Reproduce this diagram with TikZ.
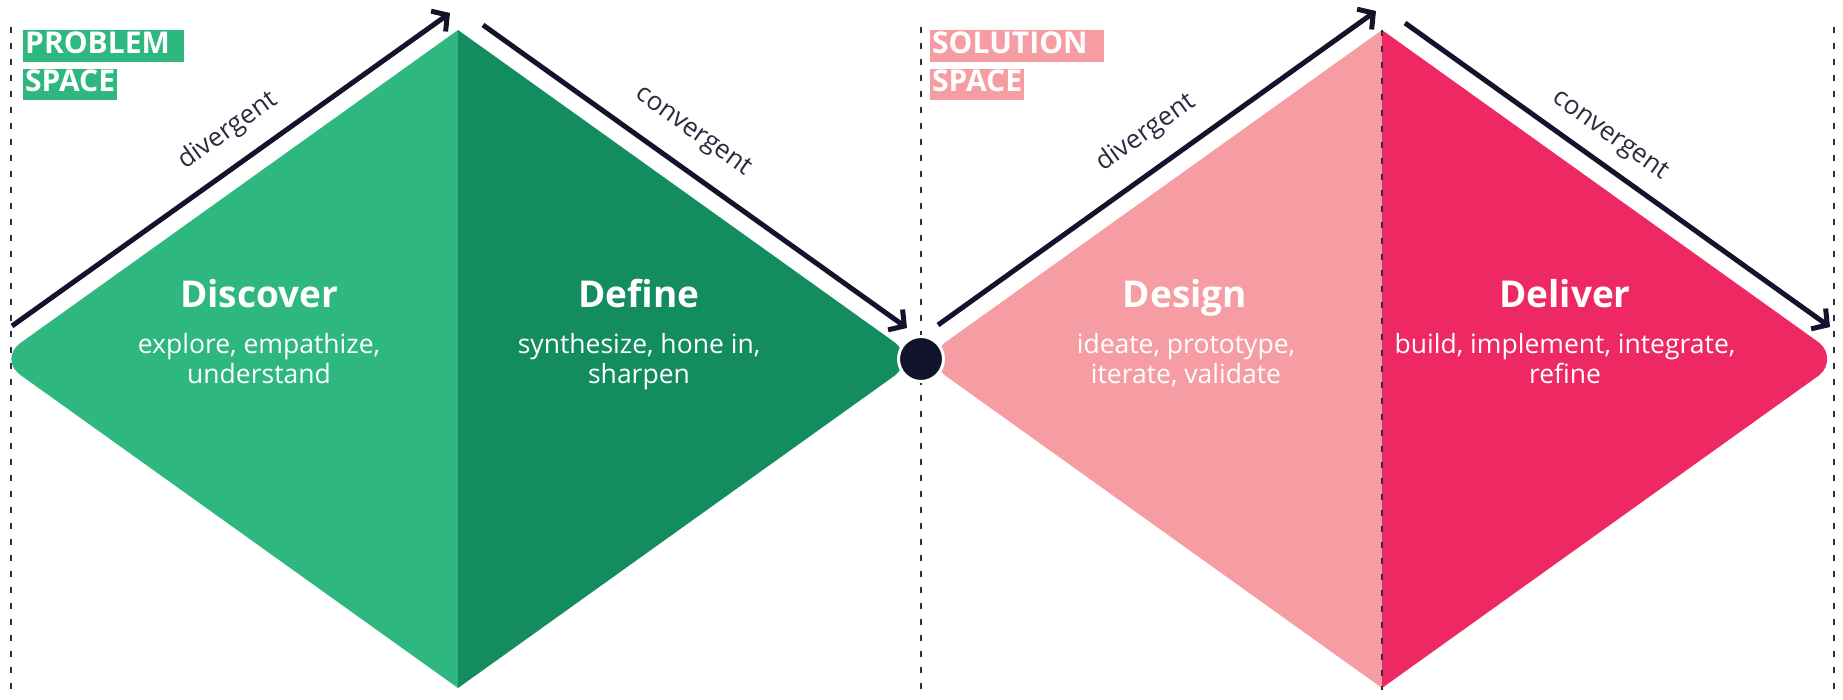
\documentclass[tikz,border=0pt]{standalone}
\usepackage{fontspec}
\setmainfont{Open Sans}
\usetikzlibrary{arrows.meta}

\definecolor{greenL}{HTML}{2EB77F}
\definecolor{greenD}{HTML}{138C60}
\definecolor{pinkL}{HTML}{F59DA2}
\definecolor{pinkD}{HTML}{EE2862}
\definecolor{navy}{HTML}{13132B}
\definecolor{guide}{HTML}{2E2E3E}

\tikzset{
  guideline/.style={guide, line width=2pt, dash pattern=on 6pt off 10pt},
  flow/.style={navy, line width=5pt, -{Straight Barb[length=11pt,width=25pt,line width=5pt]}},
  phase/.style={text=white, font=\fontsize{37}{40}\selectfont\bfseries, anchor=base, inner sep=0pt},
  activity/.style={text=white, font=\fontsize{26.5}{30}\selectfont, align=center, anchor=base, inner sep=0pt},
  mode/.style={text=navy!90, font=\fontsize{26}{30}\selectfont, inner sep=0pt},
  spacetag/.style={text=white, font=\fontsize{30}{32}\selectfont\bfseries, anchor=base west,
    inner xsep=2pt, inner ysep=0pt, text height=23pt, text depth=8.5pt}
}

\begin{document}
\begin{tikzpicture}[x=1pt,y=-1pt]
\useasboundingbox (0,0) rectangle (1843,700);

% ---- problem space diamond ----
\fill[greenL] (458,30) -- (20.7,342.8) .. controls (8.2,351.7) and (8.2,366.3) .. (20.7,375.2)
  -- (458,688) -- cycle;
\fill[greenD] (458,30) -- (895.3,342.8) .. controls (905.8,351.7) and (905.8,366.3) .. (895.3,375.2)
  -- (458,688) -- cycle;

% ---- solution space diamond ----
\fill[pinkL] (1382,30) -- (944.7,342.8) .. controls (934.2,351.7) and (934.2,366.3) .. (944.7,375.2)
  -- (1382,688) -- cycle;
\fill[pinkD] (1382,30) -- (1819.3,342.8) .. controls (1829.8,351.7) and (1829.8,366.3) .. (1819.3,375.2)
  -- (1382,688) -- cycle;

% ---- vertical guides ----
\draw[guideline] (11,27) -- (11,690);
\draw[guideline] (921,27) -- (921,690);
\draw[guideline] (1382,30) -- (1382,690);
\draw[guideline] (1834,27) -- (1834,690);

% ---- junction point ----
\node[circle, fill=navy, draw=white, line width=3pt, minimum size=45pt, inner sep=0pt] (junction) at (921,359) {};

% ---- arrow end points ----
\coordinate (p1s) at (12,326);
\coordinate (p1e) at (450,13);
\coordinate (p2s) at (483,25);
\coordinate (p2e) at (907,328);
\coordinate (s1s) at (938,325);
\coordinate (s1e) at (1376,11);
\coordinate (s2s) at (1405,23);
\coordinate (s2e) at (1830,327);

\draw[flow] (p1s) -- (p1e);
\draw[flow] (p2s) -- (p2e);
\draw[flow] (s1s) -- (s1e);
\draw[flow] (s2s) -- (s2e);

% ---- arrow labels ----
\node[mode, rotate=35.6] (div1) at (228,131) {divergent};
\node[mode, rotate=-35.6] (conv1) at (693,132) {convergent};
\node[mode, rotate=35.6] (div2) at (1146,133) {divergent};
\node[mode, rotate=-35.6] (conv2) at (1610,136) {convergent};

% ---- space tags ----
\node[spacetag, fill=greenL] (prob1) at (23,53.3) {PROBLEM\kern12pt};
\node[spacetag, fill=greenL] (prob2) at (23,91.7) {SPACE};
\node[spacetag, fill=pinkL] (sol1) at (930,53.3) {SOLUTION\kern14pt};
\node[spacetag, fill=pinkL] (sol2) at (930,91.7) {SPACE};

% ---- phase titles and activities (activity anchor = baseline of second line) ----
\node[phase] (discover) at (259,308) {Discover};
\node[activity] (discoverTxt) at (259,383) {explore, empathize,\\understand};
\node[phase] (define) at (639,308) {Define};
\node[activity] (defineTxt) at (639,383) {synthesize, hone in,\\sharpen};
\node[phase] (design) at (1185,308) {Design};
\node[activity] (designTxt) at (1186,383) {ideate, prototype,\\iterate, validate};
\node[phase] (deliver) at (1565,308) {Deliver};
\node[activity] (deliverTxt) at (1565,383) {build, implement, integrate,\\refine};
\end{tikzpicture}
\end{document}
